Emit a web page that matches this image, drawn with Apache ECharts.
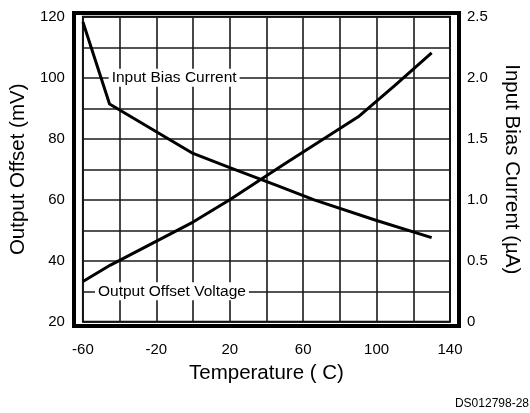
<!DOCTYPE html>
<html>
<head>
<meta charset="utf-8">
<script src="https://cdn.jsdelivr.net/npm/echarts@6/dist/echarts.min.js"></script>
<style>
  html, body { margin: 0; padding: 0; background: #fff; }
  #chart { width: 530px; height: 413px; }
</style>
</head>
<body>
<div id="chart"></div>
<script>
// values
const offsetTemp = [-60, -45, 0, 20, 50, 90, 110, 130];
const offsetMv = [33.2, 38.6, 52.7, 60, 71.8, 87.2, 97.5, 108.2];
const biasTemp = [-60, -45.5, 0, 20, 47, 66, 100, 130];
const biasUa = [2.457, 1.785, 1.38, 1.264, 1.11, 1.0, 0.83, 0.69];

const font = "'Liberation Sans', Arial, sans-serif";

function pairs(xs, ys) {
    return xs.map(function (x, i) { return [x, ys[i]]; });
}

var chart = echarts.init(document.getElementById("chart"));
chart.setOption({
    backgroundColor: "#fff",
    animation: false,
    textStyle: { fontFamily: font, color: "#000" },
    title: {
        text: "DS012798-28",
        right: 1,
        bottom: 3,
        padding: 0,
        textStyle: { fontFamily: font, fontSize: 12, fontWeight: "normal", color: "#000" }
    },
    grid: [
        // inner plotting area
        { left: 79, top: 16.8, width: 374.3, height: 305, show: true, borderColor: "#000", borderWidth: 2, backgroundColor: "transparent" },
        // outer heavy frame
        { left: 74, top: 13, width: 385, height: 313, show: true, borderColor: "#000", borderWidth: 4, backgroundColor: "transparent" }
    ],
    xAxis: [
        {
            type: "value",
            gridIndex: 0,
            min: -60,
            max: 140,
            interval: 20,
            name: "Temperature ( C)",
            nameLocation: "middle",
            nameGap: 36,
            nameTextStyle: { fontFamily: font, fontSize: 20.5, color: "#000" },
            axisLine: { show: false },
            axisTick: { show: false },
            axisLabel: {
                margin: 21,
                fontFamily: font,
                fontSize: 15,
                color: "#000",
                showMinLabel: true,
                showMaxLabel: true,
                formatter: function (v) { return (v + 60) % 40 === 0 ? String(v) : ""; }
            },
            splitLine: { show: true, lineStyle: { color: "#1a1a1a", width: 1.6 } }
        },
        { type: "value", gridIndex: 1, min: 0, max: 1, show: false }
    ],
    yAxis: [
        {
            type: "value",
            gridIndex: 0,
            min: 20,
            max: 120,
            interval: 10,
            name: "Output Offset (mV)",
            nameLocation: "middle",
            nameGap: 49,
            nameTextStyle: { fontFamily: font, fontSize: 20.5, color: "#000" },
            axisLine: { show: false },
            axisTick: { show: false },
            axisLabel: {
                margin: 18,
                fontFamily: font,
                fontSize: 15,
                color: "#000",
                formatter: function (v) { return v % 20 === 0 ? String(v) : ""; }
            },
            splitLine: { show: true, lineStyle: { color: "#1a1a1a", width: 1.6 } }
        },
        {
            type: "value",
            gridIndex: 0,
            position: "right",
            min: 0,
            max: 2.5,
            interval: 0.25,
            name: "Input Bias Current (µA)",
            nameLocation: "middle",
            nameRotate: -90,
            nameGap: 51,
            nameTextStyle: { fontFamily: font, fontSize: 20.5, color: "#000" },
            axisLine: { show: false },
            axisTick: { show: false },
            axisLabel: {
                margin: 17,
                fontFamily: font,
                fontSize: 15,
                color: "#000",
                formatter: function (v) {
                    var k = Math.round(v * 2);
                    if (Math.abs(v * 2 - k) > 1e-6) return "";
                    return k === 0 ? "0" : (k / 2).toFixed(1);
                }
            },
            splitLine: { show: false }
        },
        { type: "value", gridIndex: 1, min: 0, max: 1, show: false }
    ],
    series: [
        {
            name: "Output Offset Voltage",
            type: "line",
            xAxisIndex: 0,
            yAxisIndex: 0,
            data: pairs(offsetTemp, offsetMv),
            symbol: "none",
            lineStyle: { color: "#000", width: 3 },
            markPoint: {
                symbol: "circle",
                symbolSize: 1,
                itemStyle: { color: "transparent" },
                label: {
                    show: true,
                    position: "inside",
                    formatter: "Output Offset Voltage",
                    fontFamily: font,
                    fontSize: 15.5,
                    color: "#000",
                    backgroundColor: "#fff",
                    padding: [1, 3]
                },
                data: [{ coord: [-11.5, 30] }]
            }
        },
        {
            name: "Input Bias Current",
            type: "line",
            xAxisIndex: 0,
            yAxisIndex: 1,
            data: pairs(biasTemp, biasUa),
            symbol: "none",
            lineStyle: { color: "#000", width: 3 },
            markPoint: {
                symbol: "circle",
                symbolSize: 1,
                itemStyle: { color: "transparent" },
                label: {
                    show: true,
                    position: "inside",
                    formatter: "Input Bias Current",
                    fontFamily: font,
                    fontSize: 15.5,
                    color: "#000",
                    backgroundColor: "#fff",
                    padding: [1, 3]
                },
                data: [{ coord: [-10.3, 2.0] }]
            }
        }
    ]
});
</script>
</body>
</html>
